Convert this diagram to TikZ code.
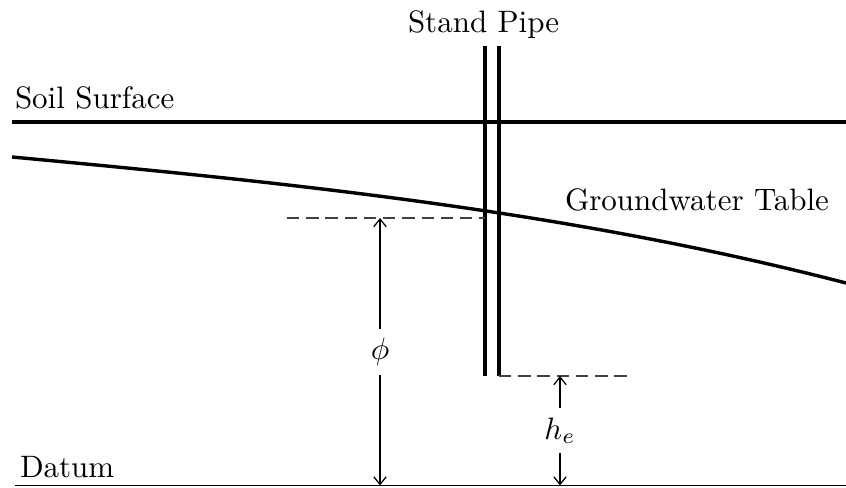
\documentclass[tikz,border=0pt]{standalone}
\usetikzlibrary{arrows.meta}
\begin{document}
\begin{tikzpicture}[x=0.3226pt,y=-0.3226pt,
  lbl/.style={anchor=base west,inner sep=0pt,outer sep=0pt},
  heavy/.style={line width=1.1pt},
  pipeline/.style={line width=1.2pt},
  datumline/.style={line width=0.6pt},
  dimline/.style={dash pattern=on 4pt off 2.2pt,line width=0.45pt,black!75},
  dimarrow/.style={{Straight Barb[length=2.5pt,width=4pt]}-{Straight Barb[length=2.5pt,width=4pt]},line width=0.4pt},
  dimlabel/.style={fill=white,inner sep=3pt}]
\useasboundingbox (0,0) rectangle (846,487);
% reference points
\coordinate (ssL) at (12,122);
\coordinate (ssR) at (846,122);
\coordinate (dL) at (15,485.5);
\coordinate (dR) at (846,485.5);
\coordinate (pLt) at (485,46);
\coordinate (pLb) at (485,376);
\coordinate (pRt) at (499,46);
\coordinate (pRb) at (499,376);
\coordinate (wtL) at (287,218);
\coordinate (wtR) at (485,218);
\coordinate (heE) at (630,376);
\coordinate (phiT) at (380,218);
\coordinate (phiB) at (380,485.5);
\coordinate (heT) at (560,376);
\coordinate (heB) at (560,485.5);
\coordinate (gwL) at (12,157);
\coordinate (gwR) at (846,283);
% labels
\node[lbl] (soil) at (15,108) {Soil Surface};
\node[lbl] (pipe) at (408,33) {Stand Pipe};
\node[lbl] (gwt) at (565,210) {Groundwater Table};
\node[lbl] (datum) at (20,477) {Datum};
% soil surface and datum
\draw[heavy] (ssL) -- (ssR);
\draw[datumline] (dL) -- (dR);
% groundwater table
\draw[heavy] (gwL) .. controls (290,183) and (568,211) .. (gwR);
% stand pipe
\draw[pipeline] (pLt) -- (pLb);
\draw[pipeline] (pRt) -- (pRb);
% dashed references
\draw[dimline] (wtL) -- (wtR);
\draw[dimline] (pRb) -- (heE);
% dimensions
\draw[dimarrow] (phiT) -- node[dimlabel] (phi) {$\phi$} (phiB);
\draw[dimarrow] (heT) -- node[dimlabel] (he) {$h_e$} (heB);
\end{tikzpicture}
\end{document}
